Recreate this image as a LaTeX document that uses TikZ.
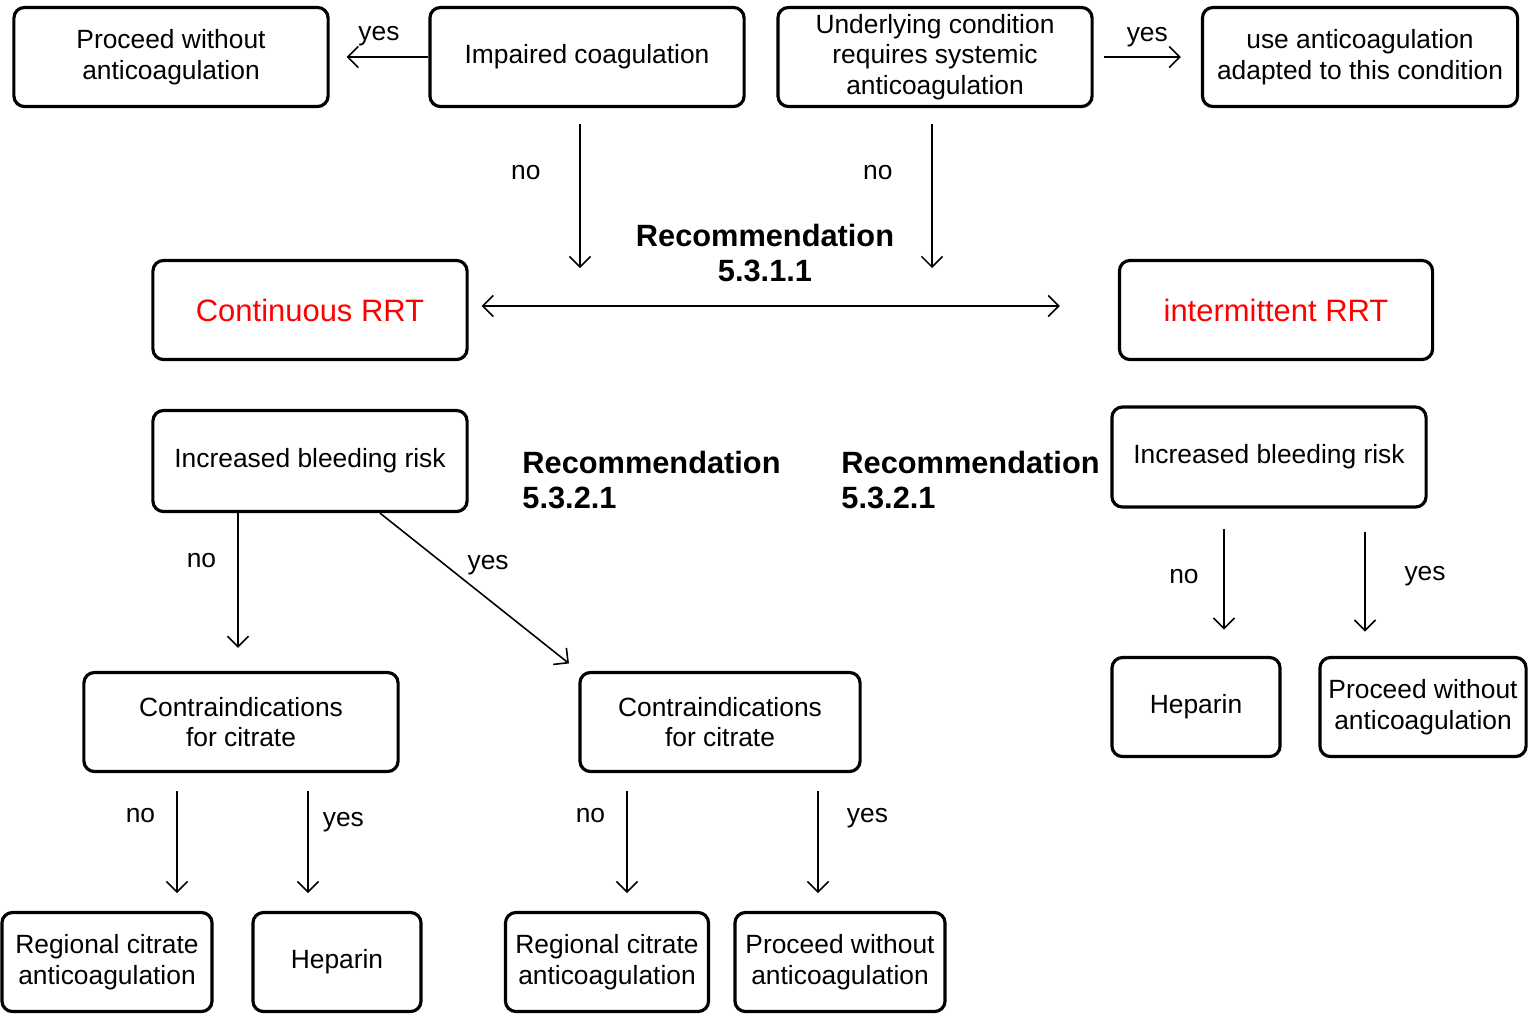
\documentclass[tikz,border=0pt]{standalone}
\usepackage{fontspec}
\setmainfont{Liberation Sans}
\usepackage{tikz}
\usetikzlibrary{arrows.meta,calc}
\usepackage{xcolor}

\newcommand{\boxfont}{\fontsize{7.5}{8.7}\selectfont}
\newcommand{\rrtfont}{\fontsize{8.8}{11}\selectfont}
\newcommand{\recfont}{\fontsize{8.75}{10.2}\selectfont\bfseries}

\begin{document}
\begin{tikzpicture}[x=0.01cm,y=-0.01cm]
	\useasboundingbox (0,0) rectangle (1528,1014);
	\begin{scope}[every node/.style={draw,rounded corners=3pt,line width=0.9pt,align=center,minimum height=0.99cm,inner sep=1pt,font=\boxfont}]
		\node[minimum width=3.14cm] (1) at (171,57) {Proceed without\\anticoagulation};
		\node[minimum width=3.14cm] (2) at (587,57) {Impaired coagulation};
		\node[minimum width=3.14cm] (3) at (935,57) {Underlying condition\\requires systemic\\anticoagulation};
		\node[minimum width=3.15cm] (4) at (1360,57) {use anticoagulation\\adapted to this condition};
		\node[minimum width=3.14cm,text=red,font=\rrtfont] (5) at (310,310) {Continuous RRT};
		\node[minimum width=3.13cm,text=red,font=\rrtfont] (6) at (1276,310) {intermittent RRT};
		\node[minimum width=3.14cm,minimum height=1.01cm] (7) at (310,461) {Increased bleeding risk};
		\node[minimum width=3.14cm,minimum height=1cm] (8) at (1269,457) {Increased bleeding risk};
		\node[minimum width=3.14cm] (9) at (241,722) {Contraindications\\for citrate};
		\node[minimum width=2.8cm] (10) at (720,722) {Contraindications\\for citrate};
		\node[minimum width=1.68cm] (11) at (1196,707) {Heparin};
		\node[minimum width=2.06cm] (12) at (1423,707) {Proceed without\\anticoagulation};
		\node[minimum width=2.1cm] (13) at (107,962) {Regional citrate\\anticoagulation};
		\node[minimum width=1.68cm] (14) at (337,962) {Heparin};
		\node[minimum width=2.03cm] (15) at (607,962) {Regional citrate\\anticoagulation};
		\node[minimum width=2.1cm] (16) at (840,962) {Proceed without\\anticoagulation};
	\end{scope}
	\begin{scope}[every node/.style={align=left,font=\recfont}]
		\node[align=center] (r1) at (765,253) {Recommendation\\5.3.1.1};
		\node[anchor=west] (r2) at (510,480) {Recommendation\\5.3.2.1};
		\node[anchor=west] (r3) at (829,480) {Recommendation\\5.3.2.1};
	\end{scope}
	% free ends of the arrows
	\coordinate (2e) at (580,268);
	\coordinate (3e) at (932,268);
	\begin{scope}[every node/.style={font=\boxfont,inner sep=1pt},
		every edge/.style={draw,-{Straight Barb[length=3pt]},line width=0.45pt}]
		\path (2.west) edge[shorten >=0.17cm] node[above=2pt] {yes} (1.east);
		\path (3.east) edge[shorten <=0.1cm,shorten >=0.2cm] node[above=1.5pt] {yes} (4.west);
		\path (2.south -| 2e) edge[shorten <=0.16cm] node[pos=0.4,left=10pt] {no} (2e);
		\path (3.south -| 3e) edge[shorten <=0.16cm] node[pos=0.4,left=10pt] {no} (3e);
		\path ($(5.east)+(0,-4)$) edge[{Straight Barb[length=3pt]}-{Straight Barb[length=3pt]},shorten <=0.13cm,shorten >=0.58cm] ($(6.west)+(0,-4)$);
		% continuous branch
		\path ($(7.south -| 9.north)+(-3,0)$) edge[shorten >=0.23cm] node[pos=0.3,left=5pt] {no} ($(9.north)+(-3,0)$);
		\path ($(7.south)+(70,0)$) edge[shorten >=0.12cm] node[pos=0.42,above right=0pt] {yes} (10.north west);
		\path ($(9.south)+(-64,0)$) edge[shorten <=0.18cm,shorten >=0.21cm] node[pos=0.3,left=5pt] {no} ($(9.south)+(-64,141)$);
		\path ($(9.south)+(67,0)$) edge[shorten <=0.18cm,shorten >=0.21cm] node[pos=0.35,right=3pt] {yes} ($(9.south)+(67,141)$);
		\path ($(10.south)+(-93,0)$) edge[shorten <=0.18cm,shorten >=0.21cm] node[pos=0.3,left=5pt] {no} ($(10.south)+(-93,141)$);
		\path ($(10.south)+(98,0)$) edge[shorten <=0.18cm,shorten >=0.21cm] node[pos=0.32,right=7pt] {yes} ($(10.south)+(98,141)$);
		% intermittent branch
		\path ($(8.south)+(-45,0)$) edge[shorten <=0.2cm,shorten >=0.3cm] node[pos=0.45,left=6pt] {no} ($(8.south)+(-45,151)$);
		\path ($(8.south)+(96,0)$) edge[shorten <=0.23cm,shorten >=0.28cm] node[pos=0.45,right=10pt] {yes} ($(8.south)+(96,151)$);
	\end{scope}
\end{tikzpicture}
\end{document}
